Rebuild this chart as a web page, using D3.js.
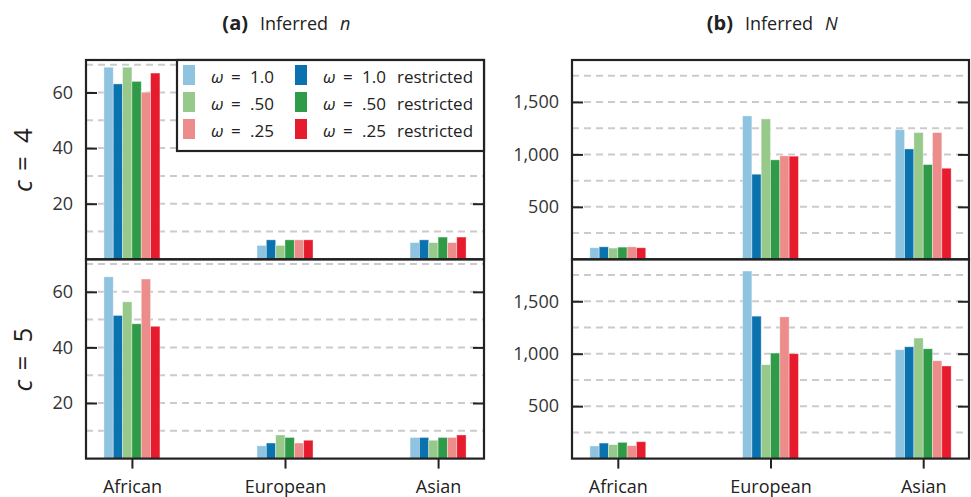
<!DOCTYPE html>
<html>
<head>
<meta charset="utf-8">
<script src="https://cdn.jsdelivr.net/npm/d3@7"></script>
<style>
  body { margin: 0; background: #fff; }
  svg { display: block; font-family: "Open Sans", Lato, sans-serif; }
</style>
</head>
<body>
<svg id="chart" width="971" height="497"></svg>
<script>
// categories and series
var regions = ['African', 'European', 'Asian']
var series = ['w10', 'w10r', 'w50', 'w50r', 'w25', 'w25r']
var seriesValues = ['1.0', '1.0', '.50', '.50', '.25', '.25']
var colors = ['#8fc4e0', '#0b72b0', '#97c98b', '#2f9a47', '#ec8d8b', '#e61c2e']

// inferred n, c = 4  (rows = region, cols = series)
var n_c4 = [
  [69.1, 63.1, 69.1, 64.0, 60.1, 67.0],
  [5, 7, 5, 7, 7, 7],
  [6, 7, 6, 8, 6, 8]
]
// inferred n, c = 5
var n_c5 = [
  [65.4, 51.5, 56.4, 48.5, 64.6, 47.6],
  [4.6, 5.6, 8.5, 7.6, 5.6, 6.6],
  [7.6, 7.6, 6.6, 7.6, 7.6, 8.5]
]
// inferred N, c = 4
var N_c4 = [
  [110, 119, 107, 116, 119, 110],
  [1367, 811, 1338, 948, 986, 983],
  [1236, 1052, 1208, 903, 1208, 868]
]
// inferred N, c = 5
var N_c5 = [
  [120, 148, 133, 155, 123, 161],
  [1788, 1358, 895, 1006, 1351, 1000],
  [1038, 1066, 1149, 1047, 933, 883]
]

var yTicksN = [20, 40, 60], yGridN = [10, 20, 30, 40, 50, 60, 70]
var yTicksBig = [500, 1000, 1500], yGridBig = [250, 500, 750, 1000, 1250, 1500, 1750]

var svg = d3.select('#chart')
var ink = '#222'

var cols = [{x0: 86, x1: 484, max: 71.7, ticks: yTicksN, grid: yGridN, fmt: d3.format('d')},
            {x0: 572, x1: 969, max: 1900, ticks: yTicksBig, grid: yGridBig, fmt: d3.format(',')}]
var rows = [{y0: 60, y1: 259.3}, {y0: 259.3, y1: 458.6}]
var panels = [
  {col: 0, row: 0, data: n_c4},
  {col: 1, row: 0, data: N_c4},
  {col: 0, row: 1, data: n_c5},
  {col: 1, row: 1, data: N_c5}
]

panels.forEach(function(p){
  var c = cols[p.col], r = rows[p.row]
  var x = d3.scaleLinear().domain([-0.3, 2.3]).range([c.x0, c.x1])
  var y = d3.scaleLinear().domain([0, c.max]).range([r.y1, r.y0])
  var inner = d3.scaleBand().domain(series).range([-0.183, 0.183])
  var g = svg.append('g')

  // dashed grid
  g.selectAll('line.grid')
    .data(c.grid)
    .join('line')
    .attr('x1', c.x0).attr('x2', c.x1)
    .attr('y1', d => y(d)).attr('y2', d => y(d))
    .attr('stroke', '#cbcbcb')
    .attr('stroke-width', 2)
    .attr('stroke-dasharray', '7,5')

  // bars
  p.data.forEach(function(vals, i){
    g.selectAll(null)
      .data(vals)
      .join('rect')
      .attr('x', (d, j) => x(i + inner(series[j])))
      .attr('width', x(inner.bandwidth()) - x(0))
      .attr('y', d => y(d))
      .attr('height', d => y(0) - y(d))
      .attr('fill', (d, j) => colors[j])
      .attr('stroke', 'rgba(255,255,255,0.45)')
      .attr('stroke-width', 0.8)
  })

  // y axes: inward ticks on both spines
  var left = d3.axisLeft(y).tickValues(c.ticks).tickSize(-11).tickPadding(13).tickFormat(c.fmt)
  var gl = g.append('g').attr('transform', `translate(${c.x0},0)`).call(left)
  var gr = g.append('g').attr('transform', `translate(${c.x1},0)`)
    .call(d3.axisRight(y).tickValues(c.ticks).tickSize(-11).tickFormat(''))
  ;[gl, gr].forEach(a => {
    a.select('.domain').remove()
    a.selectAll('line').attr('stroke', ink).attr('stroke-width', 2)
  })
  gl.selectAll('text').attr('fill', '#333').style('font-size', '18px')
    .style('font-family', '"Open Sans", sans-serif')

  // x axis only on bottom row
  if(p.row == 1){
    var gx = g.append('g').attr('transform', `translate(0,${r.y1})`)
      .call(d3.axisBottom(x).tickValues([0, 1, 2]).tickSize(10).tickPadding(12).tickFormat(i => regions[i]))
    gx.select('.domain').remove()
    gx.selectAll('line').attr('stroke', ink).attr('stroke-width', 2)
    gx.selectAll('text').attr('fill', '#222').style('font-size', '18px')
      .style('font-family', '"Open Sans", sans-serif')
  }

  // frame
  g.append('rect')
    .attr('x', c.x0).attr('y', r.y0)
    .attr('width', c.x1 - c.x0).attr('height', r.y1 - r.y0)
    .attr('fill', 'none').attr('stroke', ink).attr('stroke-width', 2.2)
})

// titles: pieces placed with LaTeX-like spacing
var titles = [{x: 248, lab: '(a)', v: 'n'}, {x: 733, lab: '(b)', v: 'N'}]
titles.forEach(function(t){
  svg.append('text').attr('x', t.x).attr('y', 30).attr('text-anchor', 'end')
    .attr('font-weight', 'bold').style('font-size', '20px').attr('fill', '#222').text(t.lab)
  var tx = svg.append('text').attr('y', 30).style('font-size', '18px').attr('fill', '#222')
  tx.append('tspan').attr('x', t.x + 12).text('Inferred')
  tx.append('tspan').attr('x', t.x + 92).attr('font-style', 'italic').text(t.v)
})

// row labels
var rowLabels = [{c: 4, y: 192}, {c: 5, y: 391.5}]
rowLabels.forEach(function(rl){
  var tx = svg.append('text')
    .attr('transform', `translate(32,${rl.y}) rotate(-90)`)
    .style('font-size', '26px').attr('fill', '#222')
  tx.append('tspan').attr('x', 0).attr('font-style', 'italic').text('c')
  tx.append('tspan').attr('x', 21).attr('textLength', 19).text('=')
  tx.append('tspan').attr('x', 49).text(rl.c)
})

// legend
var lg = svg.append('g')
lg.append('rect').attr('x', 177).attr('y', 60).attr('width', 307).attr('height', 91)
  .attr('fill', '#fff').attr('stroke', ink).attr('stroke-width', 2.2)
var legendCols = [183, 295], baseY = [83, 110, 137]
series.forEach(function(s, j){
  var cx = legendCols[j % 2], by = baseY[Math.floor(j / 2)]
  lg.append('rect').attr('x', cx).attr('y', by - 18).attr('width', 12).attr('height', 20)
    .attr('fill', colors[j])
  var t = lg.append('text').attr('y', by).style('font-size', '17px').attr('fill', '#222')
  t.append('tspan').attr('x', cx + 28).attr('font-style', 'italic').text('ω')
  t.append('tspan').attr('x', cx + 48).attr('textLength', 13).text('=')
  t.append('tspan').attr('x', cx + 67).text(seriesValues[j])
  if(j % 2 == 1) t.append('tspan').attr('x', cx + 102).text('restricted')
})
</script>
</body>
</html>
